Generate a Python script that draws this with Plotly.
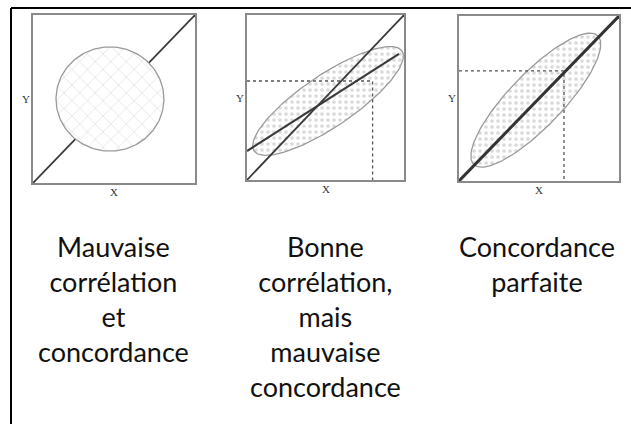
import numpy as np
import plotly.graph_objects as go

# schémas : corrélation vs concordance
legendes = ["Mauvaise<br>corrélation<br>et<br>concordance",
            "Bonne<br>corrélation,<br>mais<br>mauvaise<br>concordance",
            "Concordance<br>parfaite"]

diag_x = [0, 1]
diag_y = [0, 1]

# panneau 1 : nuage circulaire
cercle_centre = (0.475, 0.50)
cercle_rayon = (0.333, 0.31)

# panneau 2 : droite de régression + ellipse inclinée
reg_x = [0, 0.968]
reg_y = [0.176, 0.764]
ell2_centre = (0.516, 0.479)
ell2_axes = (0.56, 0.16)
ell2_angle = 32.5
ref2 = (0.80, 0.60)

# panneau 3 : ellipse sur la diagonale
ell3_centre = (0.48, 0.49)
ell3_axes = (0.55, 0.165)
ell3_angle = 45
ref3 = (0.656, 0.667)

W, H = 631, 424
# cadres des graphes en pixels (gauche, droite, haut, bas)
cadres = [(33, 195, 15, 183), (247, 404, 15, 180), (459, 619, 16, 181)]


def ellipse(c, ax, ang):
    t = np.linspace(0, 2 * np.pi, 181)
    a = np.deg2rad(ang)
    u = ax[0] * np.cos(t)
    v = ax[1] * np.sin(t)
    return c[0] + u * np.cos(a) - v * np.sin(a), c[1] + u * np.sin(a) + v * np.cos(a)


fig = go.Figure()

gris_cadre = "#8a8a8a"
trait = "#3a3a3a"
pointille = dict(color="#555555", width=1.3, dash="dot")

# --- panneau 1
fig.add_trace(go.Scatter(x=diag_x, y=diag_y, mode="lines",
                         line=dict(color=trait, width=1.8), xaxis="x", yaxis="y"))
cx, cy = ellipse(cercle_centre, cercle_rayon, 0)
fig.add_trace(go.Scatter(x=cx, y=cy, mode="lines", fill="toself", fillcolor="white",
                         fillpattern=dict(shape="x", size=11, solidity=0.1,
                                          fgcolor="#b0b0b0", bgcolor="white"),
                         line=dict(color="#9a9a9a", width=1.3), xaxis="x", yaxis="y"))

# --- panneau 2
ex, ey = ellipse(ell2_centre, ell2_axes, ell2_angle)
fig.add_trace(go.Scatter(x=ex, y=ey, mode="lines", fill="toself", fillcolor="white",
                         fillpattern=dict(shape=".", size=6, solidity=0.3,
                                          fgcolor="#b5b5b5", bgcolor="white"),
                         line=dict(color="#9a9a9a", width=1.3), xaxis="x2", yaxis="y2"))
fig.add_trace(go.Scatter(x=[0, ref2[0], ref2[0]], y=[ref2[1], ref2[1], 0], mode="lines",
                         line=pointille, xaxis="x2", yaxis="y2"))
fig.add_trace(go.Scatter(x=diag_x, y=diag_y, mode="lines",
                         line=dict(color=trait, width=1.8), xaxis="x2", yaxis="y2"))
fig.add_trace(go.Scatter(x=reg_x, y=reg_y, mode="lines",
                         line=dict(color=trait, width=2.2), xaxis="x2", yaxis="y2"))

# --- panneau 3
ex, ey = ellipse(ell3_centre, ell3_axes, ell3_angle)
fig.add_trace(go.Scatter(x=ex, y=ey, mode="lines", fill="toself", fillcolor="white",
                         fillpattern=dict(shape=".", size=6, solidity=0.3,
                                          fgcolor="#b5b5b5", bgcolor="white"),
                         line=dict(color="#9a9a9a", width=1.3), xaxis="x3", yaxis="y3"))
fig.add_trace(go.Scatter(x=[0, ref3[0], ref3[0]], y=[ref3[1], ref3[1], 0], mode="lines",
                         line=pointille, xaxis="x3", yaxis="y3"))
fig.add_trace(go.Scatter(x=diag_x, y=diag_y, mode="lines",
                         line=dict(color="#333333", width=3), xaxis="x3", yaxis="y3"))

axe = dict(range=[0, 1], showline=True, mirror=True, linecolor=gris_cadre, linewidth=1.5,
           showgrid=False, zeroline=False, showticklabels=False, ticks="", fixedrange=True)

lay = {}
annots = []
for i, (g, d, h, b) in enumerate(cadres):
    s = "" if i == 0 else str(i + 1)
    lay["xaxis" + s] = dict(axe, domain=[g / W, d / W], anchor="y" + s)
    lay["yaxis" + s] = dict(axe, domain=[1 - b / H, 1 - h / H], anchor="x" + s)
    lb = d - g
    hb = b - h
    annots.append(dict(text="X", x=0.5, y=-17 / hb, xref="x" + s + " domain",
                       yref="y" + s + " domain", showarrow=False,
                       font=dict(family="Liberation Serif", size=11, color="#333")))
    annots.append(dict(text="Y", x=-13 / lb, y=0.5, xref="x" + s + " domain",
                       yref="y" + s + " domain", showarrow=False,
                       font=dict(family="Liberation Serif", size=11, color="#333")))

centres_txt = [113, 325, 537]
for xc, t in zip(centres_txt, legendes):
    annots.append(dict(text=t, x=xc / W, y=1 - 228 / H, xref="paper", yref="paper",
                       xanchor="center", yanchor="top", align="center", showarrow=False,
                       font=dict(family="Lato", size=27, color="#111")))

fig.update_layout(**lay)
fig.update_layout(
    width=W, height=H, margin=dict(l=0, r=0, t=0, b=0),
    paper_bgcolor="white", plot_bgcolor="white", showlegend=False,
    annotations=annots,
    shapes=[dict(type="line", xref="paper", yref="paper", x0=11 / W, x1=11 / W,
                 y0=0, y1=1 - 8 / H, line=dict(color="black", width=2)),
            dict(type="line", xref="paper", yref="paper", x0=11 / W, x1=1,
                 y0=1 - 8 / H, y1=1 - 8 / H, line=dict(color="black", width=2))],
)

# pas de marge du body pour que le graphe soit collé au bord de la fenêtre
fig.write_html("out.html", config={"displayModeBar": False},
               post_script="document.body.style.margin='0';")
